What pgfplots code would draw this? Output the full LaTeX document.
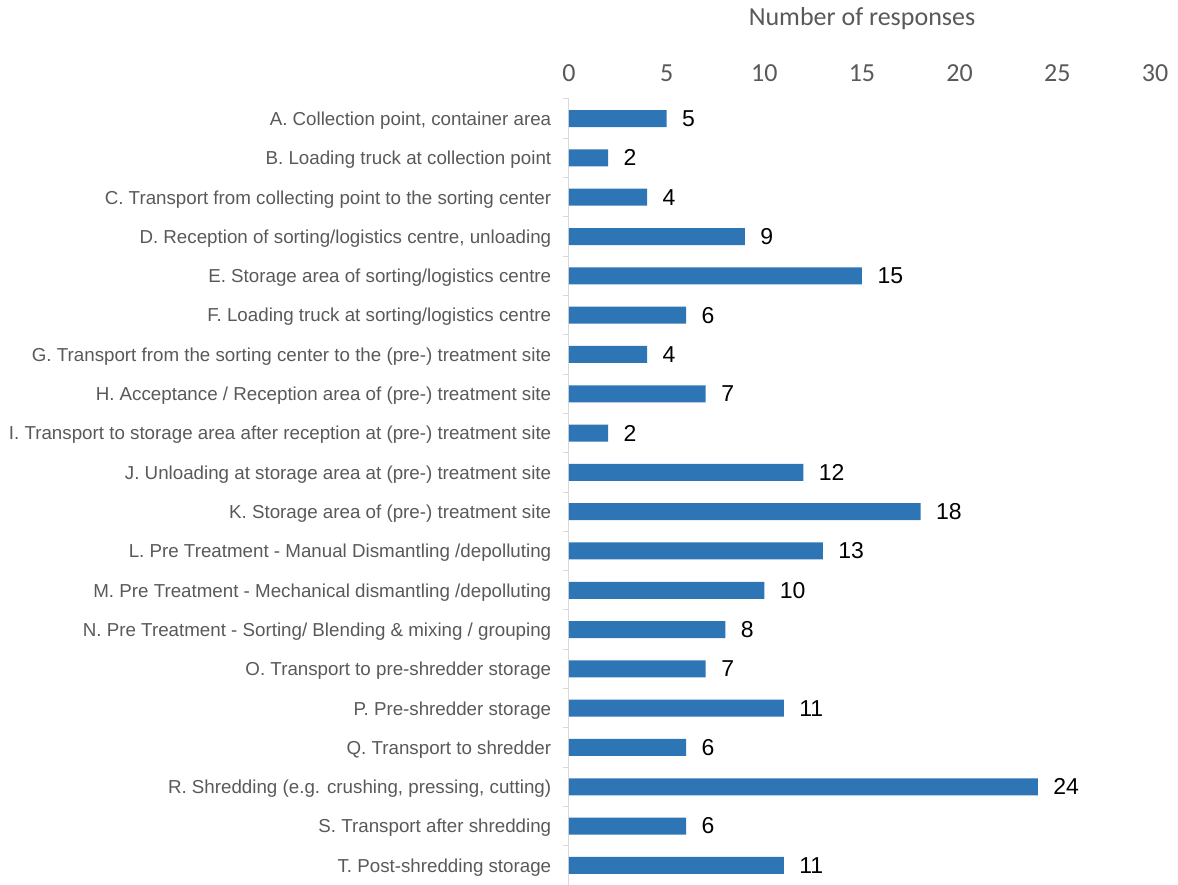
\documentclass[border=0pt]{standalone}
\usepackage{fontspec}
\setmainfont{Liberation Sans}
\newfontfamily\calf{Carlito}
\usepackage{pgfplots}
\pgfplotsset{compat=1.18}
\definecolor{barblue}{HTML}{2E75B6}
\definecolor{txtgray}{HTML}{595959}
\definecolor{axgray}{HTML}{D9D9D9}

\pgfplotstableread{
idx val
1 5
2 2
3 4
4 9
5 15
6 6
7 4
8 7
9 2
10 12
11 18
12 13
13 10
14 8
15 7
16 11
17 6
18 24
19 6
20 11
}\responses

\begin{document}
\begin{tikzpicture}
\begin{axis}[
    at={(0,0)}, anchor=south west,
    scale only axis,
    width=586pt, height=786pt,
    xbar, bar width=17pt,
    xmin=0, xmax=30,
    ymin=0.5, ymax=20.5,
    y dir=reverse,
    axis x line*=top,
    axis y line*=left,
    x axis line style={draw=none},
    y axis line style={draw=axgray, line width=1pt},
    xtick={0,5,...,30},
    major x tick style={draw=none},
    xticklabel style={font=\calf\fontsize{26}{30}\selectfont, text=txtgray, yshift=14pt},
    /pgf/number format/assume math mode=true,
    xlabel={Number of responses},
    xlabel style={font=\calf\fontsize{26}{30}\selectfont, text=txtgray, yshift=28pt},
    ytick={1,...,20},
    major y tick style={draw=none},
    yticklabels={
      {A. Collection point, container area},
      {B. Loading truck at collection point},
      {C. Transport from collecting point to the sorting center},
      {D. Reception of sorting/logistics centre, unloading},
      {E. Storage area of sorting/logistics centre},
      {F. Loading truck at sorting/logistics centre},
      {G. Transport from the sorting center to the (pre-) treatment site},
      {H. Acceptance / Reception area of (pre-) treatment site},
      {I. Transport to storage area after reception at (pre-) treatment site},
      {J. Unloading at storage area at (pre-) treatment site},
      {K. Storage area of (pre-) treatment site},
      {L. Pre Treatment - Manual Dismantling /depolluting},
      {M. Pre Treatment - Mechanical dismantling /depolluting},
      {N. Pre Treatment - Sorting/ Blending \& mixing / grouping},
      {O. Transport to pre-shredder storage},
      {P. Pre-shredder storage},
      {Q. Transport to shredder},
      {R. Shredding (e.g. crushing, pressing, cutting)},
      {S. Transport after shredding},
      {T. Post-shredding storage}},
    yticklabel style={font=\fontsize{18.75}{21}\selectfont, text=txtgray, xshift=-10pt, yshift=-2pt},
    extra y ticks={0.5,1.5,...,20.5},
    extra y tick labels={},
    extra y tick style={major tick length=6pt, tick align=outside,
      major y tick style={draw=axgray, line width=1pt}},
    nodes near coords,
    nodes near coords style={font=\fontsize{23}{26}\selectfont, text=black, xshift=12pt},
    clip=false,
]
\addplot[fill=barblue, draw=none] table[x=val, y=idx] {\responses};
\end{axis}
\pgfresetboundingbox
\path[use as bounding box] (-569pt,0pt) rectangle (609pt,885pt);
\end{tikzpicture}
\end{document}
